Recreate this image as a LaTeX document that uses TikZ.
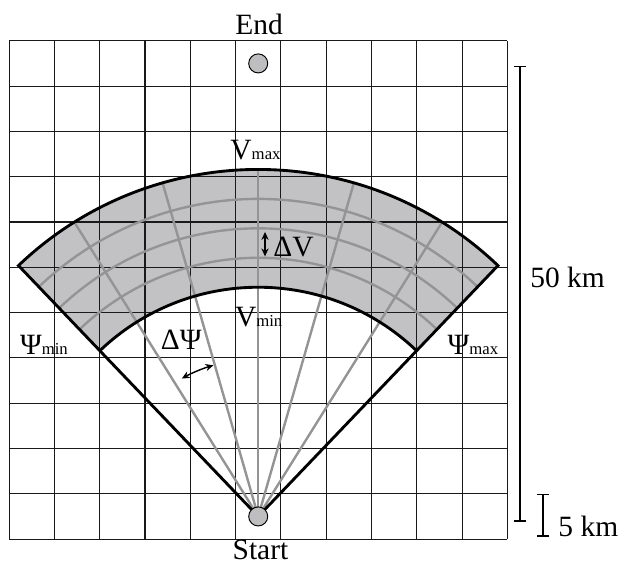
\documentclass[tikz,border=0pt]{standalone}
\usepackage{fontspec}
\setmainfont{Liberation Serif}
\usetikzlibrary{arrows.meta}

\definecolor{bandfill}{RGB}{194,194,197}
\definecolor{sitefill}{RGB}{190,190,192}
\newcommand{\lblfont}{\fontsize{18.5}{21}\selectfont}
\newcommand{\smalltag}[1]{{\fontsize{10.5}{12}\selectfont #1}}

\begin{document}
\begin{tikzpicture}[
    gridline/.style={line width=0.7pt, black!90},
    ray/.style={line width=1.5pt, black!42},
    rim/.style={line width=1.8pt, black},
    site/.style={circle, draw, line width=0.6pt, fill=sitefill, minimum size=0.42cm, inner sep=0pt},
    lbl/.style={font=\lblfont, inner sep=0pt, anchor=base},
    dbl/.style={{Stealth[length=5pt,width=4.5pt]}-{Stealth[length=5pt,width=4.5pt]}, line width=0.9pt},
    scalebar/.style={{Bar[width=0.27cm]}-{Bar[width=0.27cm]}, line width=0.9pt}
  ]
    \useasboundingbox (-0.2,-0.55) rectangle (13.53,11.9);
    \coordinate (start) at (5.5,0.5);

    % Shaded band (Vmin to Vmax)
    \fill[bandfill] ([shift={(46.3:5.06)}]start) arc[start angle=46.3, end angle=133.7, radius=5.06]
      -- ([shift={(133.7:7.66)}]start) arc[start angle=133.7, end angle=46.3, radius=7.66] -- cycle;

    % Grid, 5 km cells
    \draw[gridline] (0,0) grid (11,11);

    % Heading rays and speed arcs
    \foreach \a in {58,74,90,106,122}
      \draw[ray] (start) -- ++(\a:7.66);
    \foreach \r in {5.71,6.36,7.01}
      \draw[ray] ([shift={(46.3:\r)}]start) arc[start angle=46.3, end angle=133.7, radius=\r];

    % Sector outline
    \draw[rim] (start) -- ([shift={(133.7:7.66)}]start)
      arc[start angle=133.7, end angle=46.3, radius=7.66] -- cycle;
    \draw[rim] ([shift={(133.7:5.06)}]start) arc[start angle=133.7, end angle=46.3, radius=5.06];

    % Start and end points
    \node[site] (startpt) at (start) {};
    \node[site] (endpt) at (5.5,10.5) {};
    \node[lbl] (endlbl) at (5.52,11.13) {End};
    \node[lbl] (startlbl) at (5.55,-0.44) {Start};

    % Limits
    \node[lbl] (vmax) at (5.44,8.37) {V\smalltag{max}};
    \node[lbl] (vmin) at (5.51,4.70) {V\smalltag{min}};
    \node[lbl] (psimin) at (0.77,4.08) {Ψ\smalltag{min}};
    \node[lbl] (psimax) at (10.24,4.08) {Ψ\smalltag{max}};

    % Steps
    \coordinate (dvlo) at (5.65,6.24);
    \coordinate (dvhi) at (5.65,6.78);
    \draw[dbl] (dvlo) -- (dvhi);
    \node[lbl, anchor=base west] (dv) at (5.83,6.23) {ΔV};
    \draw[dbl] ([shift={(119:3.48)}]start) arc[start angle=119, end angle=106.5, radius=3.48];
    \node[lbl] (dpsi) at (3.80,4.19) {ΔΨ};

    % Scale bars
    \coordinate (bigbot) at (11.28,0.38);
    \coordinate (bigtop) at (11.28,10.45);
    \draw[scalebar] (bigbot) -- (bigtop);
    \node[lbl, anchor=base west] (bigkm) at (11.5,5.55) {50 km};
    \coordinate (smallbot) at (11.79,0.05);
    \coordinate (smalltop) at (11.79,1.0);
    \draw[scalebar] (smallbot) -- (smalltop);
    \node[lbl, anchor=base west] (smallkm) at (12.12,0.05) {5 km};
  \end{tikzpicture}
\end{document}
